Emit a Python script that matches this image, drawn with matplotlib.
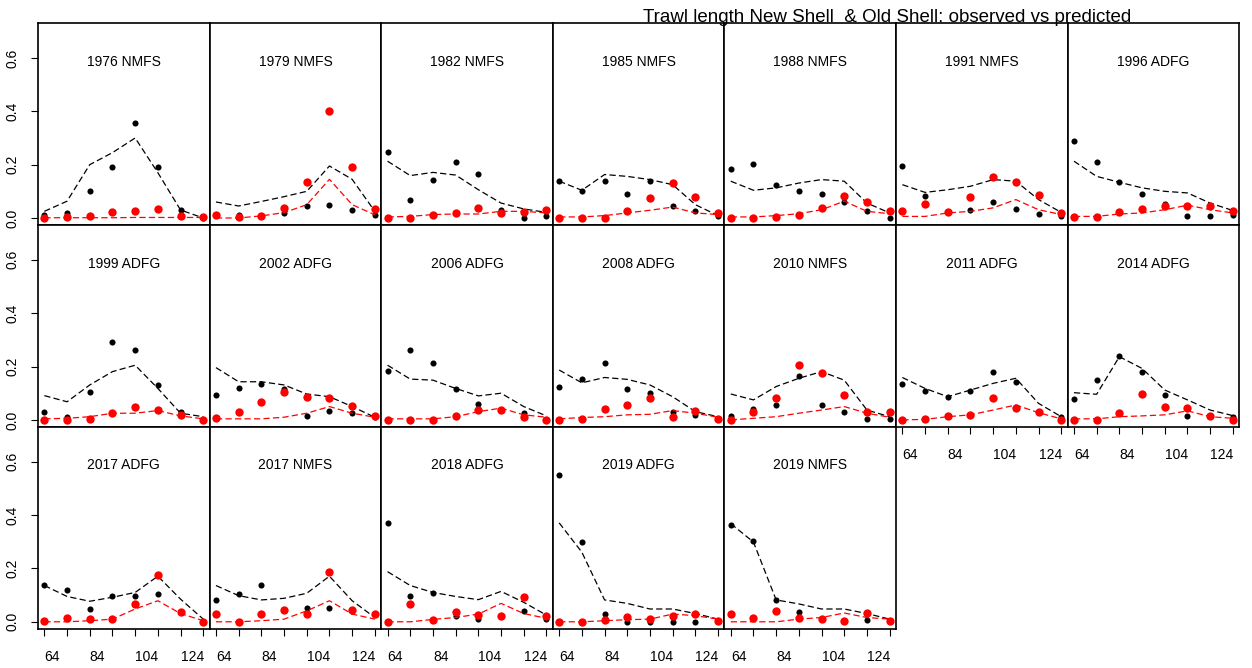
import matplotlib
matplotlib.use("Agg")
import matplotlib.pyplot as plt
import numpy as np

plt.rcParams['font.family'] = ['Liberation Sans', 'DejaVu Sans']

# length bins (mm)
lengths = [64, 74, 84, 94, 104, 114, 124, 134]

panel_labels = ["1976 NMFS", "1979 NMFS", "1982 NMFS", "1985 NMFS", "1988 NMFS", "1991 NMFS", "1996 ADFG",
                "1999 ADFG", "2002 ADFG", "2006 ADFG", "2008 ADFG", "2010 NMFS", "2011 ADFG", "2014 ADFG",
                "2017 ADFG", "2017 NMFS", "2018 ADFG", "2019 ADFG", "2019 NMFS"]

# new shell (black) observed / predicted
new_obs = [
    [0.01, 0.02, 0.10, 0.19, 0.355, 0.19, 0.03, 0.0],
    [0.012, 0.01, 0.008, 0.02, 0.045, 0.05, 0.03, 0.01],
    [0.248, 0.069, 0.144, 0.209, 0.164, 0.031, 0.0, 0.006],
    [0.139, 0.10, 0.139, 0.089, 0.139, 0.044, 0.025, 0.006],
    [0.183, 0.203, 0.125, 0.10, 0.09, 0.059, 0.025, 0.0],
    [0.194, 0.081, 0.023, 0.031, 0.059, 0.035, 0.015, 0.006],
    [0.288, 0.209, 0.134, 0.09, 0.053, 0.006, 0.006, 0.01],
    [0.031, 0.012, 0.105, 0.293, 0.263, 0.131, 0.031, 0.0],
    [0.093, 0.12, 0.133, 0.115, 0.016, 0.035, 0.027, 0.012],
    [0.184, 0.262, 0.213, 0.115, 0.061, 0.037, 0.027, 0.0],
    [0.125, 0.153, 0.213, 0.115, 0.10, 0.031, 0.019, 0.004],
    [0.016, 0.041, 0.055, 0.164, 0.055, 0.031, 0.002, 0.002],
    [0.133, 0.11, 0.085, 0.11, 0.178, 0.141, 0.029, 0.012],
    [0.078, 0.148, 0.239, 0.178, 0.095, 0.016, 0.015, 0.012],
    [0.138, 0.118, 0.049, 0.095, 0.095, 0.104, 0.035, 0.0],
    [0.083, 0.104, 0.138, 0.045, 0.05, 0.05, 0.04, 0.03],
    [0.371, 0.095, 0.108, 0.023, 0.01, 0.02, 0.04, 0.01],
    [0.55, 0.299, 0.031, 0.0, 0.0, 0.0, 0.0, 0.003],
    [0.363, 0.302, 0.082, 0.035, 0.01, 0.003, 0.005, 0.003],
]
new_pred = [
    [0.025, 0.063, 0.20, 0.245, 0.30, 0.17, 0.03, 0.0],
    [0.06, 0.045, 0.062, 0.08, 0.10, 0.195, 0.145, 0.025],
    [0.213, 0.159, 0.171, 0.161, 0.106, 0.056, 0.034, 0.021],
    [0.138, 0.104, 0.163, 0.156, 0.144, 0.125, 0.05, 0.009],
    [0.138, 0.104, 0.113, 0.131, 0.144, 0.138, 0.056, 0.019],
    [0.125, 0.096, 0.106, 0.119, 0.144, 0.138, 0.069, 0.021],
    [0.213, 0.156, 0.134, 0.113, 0.10, 0.094, 0.056, 0.028],
    [0.091, 0.068, 0.131, 0.181, 0.205, 0.118, 0.025, 0.012],
    [0.196, 0.143, 0.143, 0.131, 0.097, 0.087, 0.05, 0.01],
    [0.205, 0.153, 0.149, 0.118, 0.09, 0.10, 0.05, 0.015],
    [0.187, 0.139, 0.159, 0.152, 0.131, 0.087, 0.031, 0.012],
    [0.097, 0.075, 0.125, 0.156, 0.181, 0.149, 0.037, 0.012],
    [0.159, 0.118, 0.087, 0.112, 0.137, 0.156, 0.062, 0.012],
    [0.102, 0.096, 0.237, 0.193, 0.112, 0.075, 0.037, 0.016],
    [0.136, 0.095, 0.077, 0.092, 0.11, 0.171, 0.085, 0.01],
    [0.136, 0.098, 0.082, 0.088, 0.107, 0.171, 0.079, 0.016],
    [0.188, 0.136, 0.11, 0.095, 0.083, 0.114, 0.073, 0.025],
    [0.371, 0.261, 0.082, 0.069, 0.048, 0.048, 0.031, 0.01],
    [0.368, 0.299, 0.082, 0.067, 0.048, 0.048, 0.031, 0.01],
]

# old shell (red) observed / predicted
old_obs = [
    [0.0, 0.003, 0.008, 0.023, 0.028, 0.033, 0.008, 0.003],
    [0.012, 0.003, 0.008, 0.038, 0.135, 0.40, 0.19, 0.033],
    [0.0, 0.0, 0.013, 0.019, 0.038, 0.019, 0.024, 0.029],
    [0.0, 0.0, 0.0, 0.028, 0.076, 0.131, 0.078, 0.019],
    [0.0, 0.0, 0.003, 0.013, 0.038, 0.081, 0.061, 0.028],
    [0.028, 0.053, 0.023, 0.078, 0.153, 0.135, 0.088, 0.019],
    [0.003, 0.003, 0.023, 0.034, 0.044, 0.044, 0.044, 0.025],
    [0.0, 0.0, 0.003, 0.027, 0.047, 0.037, 0.017, 0.0],
    [0.007, 0.029, 0.067, 0.103, 0.087, 0.082, 0.052, 0.014],
    [0.0, 0.0, 0.0, 0.014, 0.037, 0.037, 0.009, 0.0],
    [0.0, 0.004, 0.042, 0.057, 0.081, 0.009, 0.034, 0.004],
    [0.0, 0.029, 0.082, 0.205, 0.176, 0.093, 0.029, 0.029],
    [0.0, 0.004, 0.015, 0.02, 0.082, 0.044, 0.029, 0.0],
    [0.0, 0.0, 0.024, 0.097, 0.049, 0.044, 0.015, 0.0],
    [0.003, 0.013, 0.011, 0.011, 0.066, 0.176, 0.038, 0.0],
    [0.031, 0.0, 0.031, 0.046, 0.031, 0.186, 0.046, 0.031],
    [0.0, 0.066, 0.006, 0.038, 0.025, 0.023, 0.092, 0.023],
    [0.0, 0.0, 0.006, 0.019, 0.009, 0.02, 0.028, 0.003],
    [0.031, 0.013, 0.041, 0.016, 0.01, 0.003, 0.034, 0.003],
]
old_pred = [
    [0.001, 0.001, 0.001, 0.001, 0.002, 0.002, 0.002, 0.002],
    [0.0, 0.0, 0.008, 0.02, 0.05, 0.145, 0.05, 0.012],
    [0.004, 0.006, 0.013, 0.015, 0.015, 0.025, 0.025, 0.019],
    [0.004, 0.004, 0.009, 0.019, 0.029, 0.041, 0.019, 0.013],
    [0.004, 0.004, 0.009, 0.016, 0.031, 0.063, 0.025, 0.016],
    [0.006, 0.006, 0.019, 0.025, 0.038, 0.069, 0.031, 0.013],
    [0.006, 0.006, 0.015, 0.019, 0.031, 0.048, 0.031, 0.019],
    [0.004, 0.006, 0.012, 0.025, 0.025, 0.035, 0.015, 0.004],
    [0.004, 0.004, 0.004, 0.01, 0.025, 0.05, 0.025, 0.01],
    [0.004, 0.004, 0.004, 0.012, 0.031, 0.044, 0.019, 0.01],
    [0.004, 0.009, 0.012, 0.019, 0.021, 0.035, 0.025, 0.01],
    [0.0, 0.006, 0.012, 0.025, 0.037, 0.05, 0.025, 0.01],
    [0.0, 0.002, 0.012, 0.019, 0.037, 0.056, 0.027, 0.004],
    [0.004, 0.004, 0.012, 0.015, 0.019, 0.034, 0.012, 0.006],
    [0.0, 0.0, 0.004, 0.01, 0.048, 0.079, 0.031, 0.004],
    [0.0, 0.0, 0.004, 0.01, 0.041, 0.079, 0.029, 0.01],
    [0.0, 0.0, 0.009, 0.016, 0.029, 0.069, 0.031, 0.013],
    [0.0, 0.0, 0.004, 0.008, 0.01, 0.029, 0.023, 0.01],
    [0.0, 0.0, 0.0, 0.01, 0.016, 0.033, 0.016, 0.01],
]

W, H = 1252, 668
fig = plt.figure(figsize=(W / 100, H / 100), dpi=100)

ncol = 7
left0 = 38.0
pw = 171.6      # panel width in px
top0 = 23.3
ph = 201.9      # panel height in px
dash = (0, (5, 2.6))

for i, lab in enumerate(panel_labels):
    r, c = divmod(i, ncol)
    x0 = left0 + c * pw
    ybot = top0 + (r + 1) * ph
    ax = fig.add_axes([x0 / W, 1 - ybot / H, pw / W, ph / H])

    ax.plot(lengths, new_obs[i], 'o', color='black', ms=4.4, mew=0, zorder=3)
    ax.plot(lengths, new_pred[i], color='black', lw=0.9, linestyle=dash, zorder=2)
    ax.plot(lengths, old_obs[i], 'o', color='#ff0000', ms=6.0, mew=0, zorder=4)
    ax.plot(lengths, old_pred[i], color='#ff0000', lw=0.9, linestyle=dash, zorder=5)

    ax.set_xlim(61.2, 136.8)
    ax.set_ylim(-0.027, 0.730)
    ax.text(0.5, 0.81, lab, transform=ax.transAxes, ha='center', va='center', fontsize=10)

    for s in ax.spines.values():
        s.set_linewidth(1.2)

    ax.set_xticks(lengths)
    ax.set_yticks([0.0, 0.2, 0.4, 0.6])
    # x axis only on the lowest panel of each column
    bottom_panel = (r == 2) or (r == 1 and c >= 5)
    if bottom_panel:
        ax.set_xticklabels(['64', '', '84', '', '104', '', '124', ''])
        ax.tick_params(axis='x', direction='out', length=5, width=0.8, pad=10, labelsize=10)
        for t in ax.get_xticklabels():
            t.set_horizontalalignment('left')
    else:
        ax.tick_params(axis='x', bottom=False, labelbottom=False)
    if c == 0:
        ax.set_yticklabels(['0.0', '0.2', '0.4', '0.6'])
        ax.tick_params(axis='y', direction='out', length=5, width=0.8, pad=8, labelsize=10)
        for t in ax.get_yticklabels():
            t.set_rotation(90)
            t.set_verticalalignment('center')
    else:
        ax.tick_params(axis='y', left=False, labelleft=False)

fig.text(643 / W, 1 - 22 / H, "Trawl length New Shell  & Old Shell: observed vs predicted",
         ha='left', va='baseline', fontsize=13.5)

plt.savefig("out.png", dpi=100)
